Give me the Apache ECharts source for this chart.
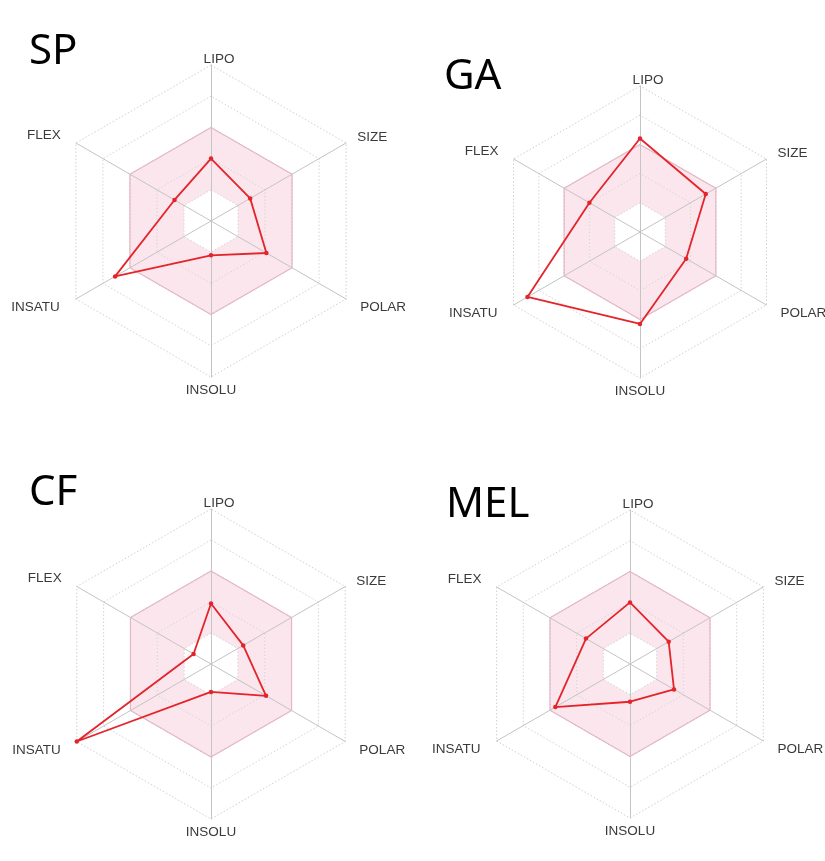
<!DOCTYPE html>
<html>
<head>
<meta charset="utf-8">
<script src="https://cdn.jsdelivr.net/npm/echarts@6/dist/echarts.min.js"></script>
<style>
html,body{margin:0;padding:0;background:#fff;}
#c{width:825px;height:861px;}
</style>
</head>
<body>
<div id="c"></div>
<script>
// Axes, counter-clockwise from the top (ECharts radar order)
const axes = ['LIPO', 'FLEX', 'INSATU', 'INSOLU', 'POLAR', 'SIZE'];
const compounds = ['SP', 'GA', 'CF', 'MEL'];
// Values (0..1 scaled radar distance) in the same axis order
const spValues  = [0.40, 0.27, 0.71, 0.22, 0.41, 0.29];
const gaValues  = [0.64, 0.40, 0.89, 0.63, 0.365, 0.52];
const cfValues  = [0.39, 0.13, 1.00, 0.18, 0.41, 0.24];
const melValues = [0.40, 0.33, 0.56, 0.245, 0.33, 0.29];
// Optimal range upper bound (pink hexagon)
const optimalUpper = [0.6, 0.6, 0.6, 0.6, 0.6, 0.6];

const allValues = [spValues, gaValues, cfValues, melValues];
const layouts = [
  {center: [211, 221], radius: 156, title: {left: 24, top: 26}},
  {center: [640, 232], radius: 146, title: {left: 439, top: 51}},
  {center: [211, 664], radius: 155, title: {left: 24, top: 467}},
  {center: [630, 664], radius: 154, title: {left: 441, top: 479}}
];

const namePad = {
  LIPO: [0, 0, 0, 16],
  INSOLU: [7, 0, 0, 0],
  FLEX: [0, 16, 17, 0],
  INSATU: [18, 17, 0, 0],
  SIZE: [0, 0, 12, 12],
  POLAR: [18, 0, 0, 15]
};
const labelColor = '#3a3a3a';
const labelFont = {fontFamily: 'Liberation Sans, Arial, sans-serif', fontSize: 13.5, color: labelColor};

function richStyles() {
  const r = {};
  Object.keys(namePad).forEach(k => {
    r[k] = Object.assign({padding: namePad[k]}, labelFont);
  });
  return r;
}

const chart = echarts.init(document.getElementById('c'), null, {renderer: 'canvas'});

const radar = layouts.map(l => ({
  center: l.center,
  radius: l.radius,
  startAngle: 90,
  splitNumber: 5,
  shape: 'polygon',
  indicator: axes.map(a => ({name: a, min: 0, max: 1})),
  axisName: {
    formatter: function (name) {
      return '{' + name + '|' + name + '}';
    },
    rich: richStyles(),
    color: labelColor
  },
  nameGap: -1,
  axisLine: {lineStyle: {color: '#c4c4c4', width: 1}},
  splitLine: {lineStyle: {color: ['#d0d0d0', '#d4d4d4', '#d4d4d4', '#e2b9c7', '#d4d4d4', '#d0d0d0'], type: [1.5, 2], width: 1}},
  splitArea: {areaStyle: {color: ['#ffffff', '#fbe6ed', '#fbe6ed', '#ffffff', '#ffffff'], opacity: 1}}
}));

const series = [];
allValues.forEach((vals, i) => {
  series.push({
    type: 'radar',
    radarIndex: i,
    silent: true,
    symbol: 'none',
    lineStyle: {color: '#e3b8c6', width: 1.2},
    data: [{value: optimalUpper}]
  });
  series.push({
    type: 'radar',
    radarIndex: i,
    symbol: 'circle',
    symbolSize: 4.5,
    lineStyle: {color: '#e4242a', width: 1.8},
    itemStyle: {color: '#e4242a'},
    data: [{value: vals, name: compounds[i]}]
  });
});

chart.setOption({
  animation: false,
  backgroundColor: '#ffffff',
  title: compounds.map((c, i) => ({
    text: c,
    left: layouts[i].title.left,
    top: layouts[i].title.top,
    textStyle: {fontFamily: 'Noto Sans', fontSize: 42, fontWeight: 'normal', color: '#000'}
  })),
  radar: radar,
  series: series
});
</script>
</body>
</html>
